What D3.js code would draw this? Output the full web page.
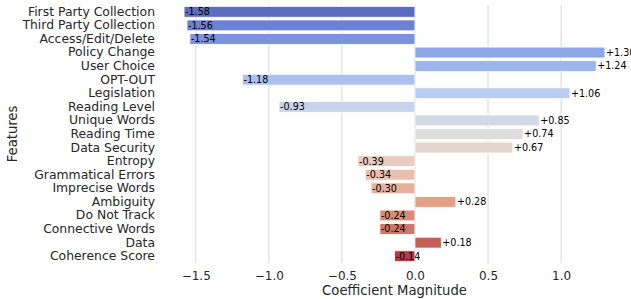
<!DOCTYPE html>
<html>
<head>
<meta charset="utf-8">
<script src="https://cdn.jsdelivr.net/npm/d3@7"></script>
<style>
  body { margin: 0; background: #fff; }
  text { font-family: "DejaVu Sans", sans-serif; }
</style>
</head>
<body>
<script>
// features, top to bottom
var features = ["First Party Collection", "Third Party Collection", "Access/Edit/Delete",
  "Policy Change", "User Choice", "OPT-OUT", "Legislation", "Reading Level",
  "Unique Words", "Reading Time", "Data Security", "Entropy", "Grammatical Errors",
  "Imprecise Words", "Ambiguity", "Do Not Track", "Connective Words", "Data", "Coherence Score"];

var coefs = [-1.58, -1.56, -1.54, 1.30, 1.24, -1.18, 1.06, -0.93, 0.85, 0.74, 0.67,
  -0.39, -0.34, -0.30, 0.28, -0.24, -0.24, 0.18, -0.14];

var xTicks = [-1.5, -1.0, -0.5, 0.0, 0.5, 1.0];

// coolwarm anchor colours (matplotlib)
var coolwarm = ["#3b4cc0", "#6282ea", "#8db0fe", "#b8d0f9", "#dddddd",
  "#f5c4ad", "#f4987a", "#de604d", "#b40426"];

const width = 631;
const height = 299;
const margin = {left: 163, right: 5, top: 5, bottom: 36};

var interp = d3.piecewise(d3.interpolateRgb, coolwarm);
function barColor(i) {
  var c = d3.hsl(interp((i + 1) / (features.length + 1)));
  c.s = c.s * 0.75; // seaborn desaturation
  return c.formatHex();
}

const svg = d3.select("body").append("svg")
  .attr("width", width)
  .attr("height", height);

var x = d3.scaleLinear()
  .domain([-1.724, 1.444])
  .range([margin.left, width - margin.right]);

var y = d3.scaleBand()
  .domain(features)
  .range([margin.top, height - margin.bottom])
  .paddingInner(0.2)
  .paddingOuter(0.1);

// grid
svg.append("g")
  .selectAll("line")
  .data(xTicks)
  .enter().append("line")
  .attr("x1", d => x(d)).attr("x2", d => x(d))
  .attr("y1", margin.top).attr("y2", height - margin.bottom)
  .attr("stroke", "#dedede")
  .attr("stroke-width", 1.2);

// x axis
var xAxis = svg.append("g")
  .attr("transform", "translate(0," + (height - margin.bottom) + ")")
  .call(d3.axisBottom(x).tickValues(xTicks).tickFormat(d3.format(".1f")).tickSize(0).tickPadding(8.5));
xAxis.select(".domain").remove();
xAxis.selectAll("text").attr("font-size", 12).attr("fill", "#262626")
  .attr("font-family", "DejaVu Sans");

// y axis
var yAxis = svg.append("g")
  .attr("transform", "translate(" + margin.left + ",0)")
  .call(d3.axisLeft(y).tickSize(0).tickPadding(8));
yAxis.select(".domain").remove();
yAxis.selectAll("text").attr("font-size", 12.4).attr("fill", "#262626")
  .attr("font-family", "DejaVu Sans");

// bars
svg.append("g")
  .selectAll("rect")
  .data(coefs)
  .enter().append("rect")
  .attr("x", d => x(Math.min(0, d)))
  .attr("y", (d, i) => y(features[i]))
  .attr("width", d => Math.abs(x(d) - x(0)))
  .attr("height", y.bandwidth())
  .attr("fill", (d, i) => barColor(i))
  .attr("stroke", "#fff")
  .attr("stroke-width", 0.8);

// value labels
svg.append("g")
  .selectAll("text")
  .data(coefs)
  .enter().append("text")
  .attr("x", d => x(d) + 1)
  .attr("y", (d, i) => y(features[i]) + y.bandwidth() / 2)
  .attr("dy", "0.35em")
  .attr("font-size", 9.6)
  .attr("fill", "#000")
  .text(d => (d > 0 ? "+" : "") + d.toFixed(2));

// axis titles
svg.append("text")
  .attr("x", (x.range()[0] + x.range()[1]) / 2)
  .attr("y", 295)
  .attr("text-anchor", "middle")
  .attr("font-size", 13.2)
  .attr("fill", "#262626")
  .text("Coefficient Magnitude");

svg.append("text")
  .attr("transform", "translate(17," + ((margin.top + height - margin.bottom) / 2) + ") rotate(-90)")
  .attr("text-anchor", "middle")
  .attr("font-size", 13.2)
  .attr("fill", "#262626")
  .text("Features");
</script>
</body>
</html>
